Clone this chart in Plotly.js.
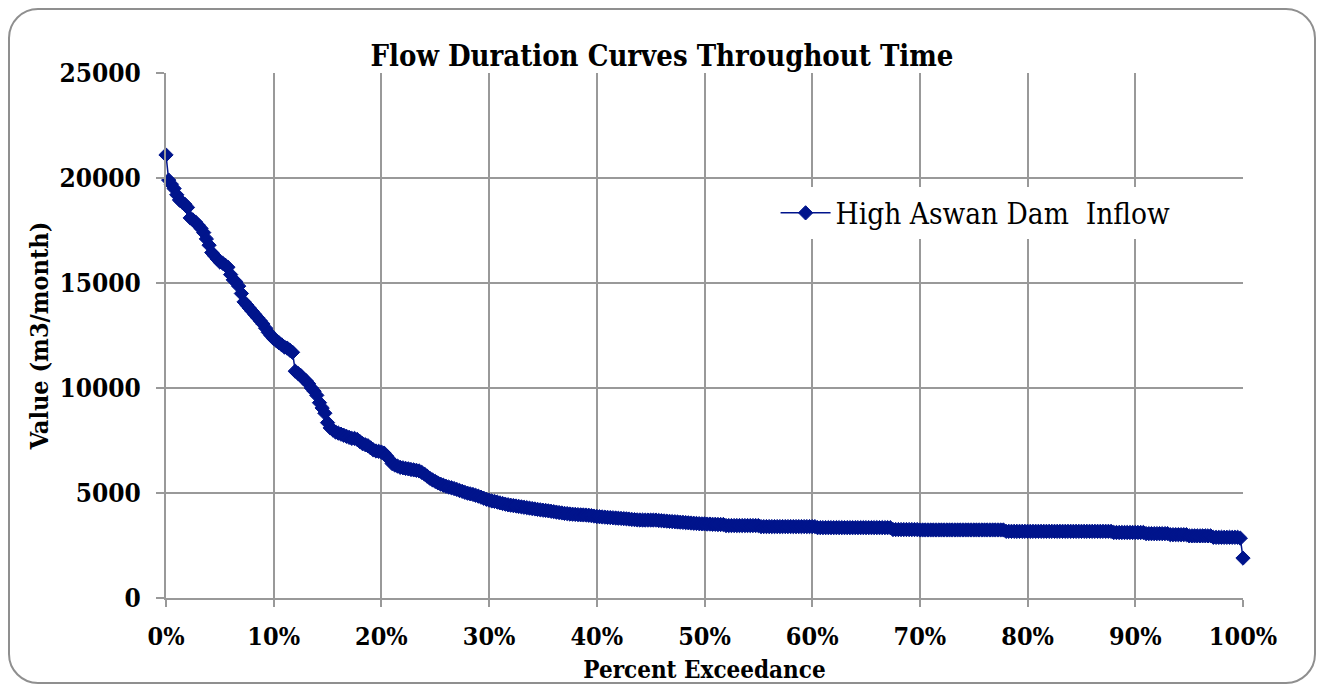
<!DOCTYPE html>
<html>
<head>
<meta charset="utf-8">
<script src="https://cdn.plot.ly/plotly-3.0.1.min.js"></script>
<style>
  html, body { margin: 0; padding: 0; background: #ffffff; }
  #frame {
    position: absolute; left: 8px; top: 8px; width: 1304px; height: 672px;
    border: 2px solid #8f8f8f; border-radius: 30px; box-sizing: content-box;
  }
  #chart { position: absolute; left: 0; top: 0; width: 1324px; height: 684px; }
</style>
</head>
<body>
<div id="frame"></div>
<div id="chart"></div>
<script>
// Flow values (m3/month), sorted descending, one every 0.25% exceedance
const STEP_PERCENT = 0.25;
const flow_00_05 = [21100,19900,19700,19500,19200,18950,18850,18750,18600,18100,18000,17900,17750,17600,17400,17100,16800,16450,16300,16150];
const flow_05_10 = [16000,15950,15850,15750,15400,15150,15050,14850,14500,14100,13950,13800,13650,13500,13350,13200,13050,12850,12650,12500];
const flow_10_15 = [12350,12250,12150,12050,11950,11900,11800,11700,10800,10700,10600,10450,10350,10200,10000,9850,9650,9300,9050,8800];
const flow_15_20 = [8350,8100,8000,7900,7850,7800,7750,7700,7650,7600,7600,7550,7450,7350,7300,7250,7150,7050,7000,6980];
const flow_20_25 = [6950,6900,6750,6600,6400,6330,6280,6220,6200,6170,6150,6120,6100,6080,6050,5980,5900,5800,5700,5620];
const flow_25_30 = [5550,5480,5420,5370,5320,5280,5250,5210,5170,5120,5080,5030,4990,4960,4930,4890,4850,4800,4750,4700];
const flow_30_35 = [4660,4620,4600,4570,4530,4500,4470,4440,4420,4400,4380,4360,4340,4320,4300,4280,4260,4240,4220,4200];
const flow_35_40 = [4180,4170,4150,4130,4110,4090,4070,4050,4030,4020,4000,3990,3980,3970,3960,3955,3950,3940,3920,3900];
const flow_40_45 = [3880,3870,3860,3850,3840,3830,3820,3810,3800,3790,3780,3770,3760,3740,3730,3720,3715,3710,3710,3710];
const flow_45_50 = [3710,3710,3710,3690,3680,3670,3660,3650,3640,3630,3620,3610,3600,3590,3580,3570,3560,3550,3540,3530];
const flow_50_55 = [3530,3520,3520,3510,3510,3500,3500,3500,3450,3450,3450,3450,3450,3450,3450,3450,3450,3450,3450,3450];
const flow_55_60 = [3450,3400,3400,3400,3400,3400,3400,3400,3400,3400,3400,3400,3400,3400,3400,3400,3400,3400,3400,3400];
const flow_60_65 = [3400,3400,3350,3350,3350,3350,3350,3350,3350,3350,3350,3350,3350,3350,3350,3350,3350,3350,3350,3350];
const flow_65_70 = [3350,3350,3350,3350,3350,3350,3350,3350,3350,3350,3260,3260,3260,3260,3260,3260,3260,3260,3260,3260];
const flow_70_75 = [3240,3240,3240,3240,3240,3240,3240,3240,3240,3240,3240,3240,3240,3240,3240,3240,3240,3240,3240,3240];
const flow_75_80 = [3240,3240,3240,3240,3240,3240,3240,3240,3240,3240,3240,3240,3175,3175,3175,3175,3175,3175,3175,3175];
const flow_80_85 = [3175,3175,3175,3175,3175,3175,3175,3175,3175,3175,3175,3175,3175,3175,3175,3175,3175,3175,3175,3175];
const flow_85_90 = [3175,3175,3175,3175,3175,3175,3175,3175,3175,3175,3175,3175,3120,3120,3120,3120,3120,3120,3120,3120];
const flow_90_95 = [3120,3120,3120,3120,3065,3065,3065,3065,3065,3065,3065,3065,3065,3015,3015,3015,3015,3015,3015,3015];
const flow_95_100 = [2960,2960,2960,2960,2960,2960,2960,2960,2960,2890,2890,2890,2890,2890,2890,2890,2890,2890,2890,2850];
const flow_last = [1900];

const seriesName = 'High Aswan Dam  Inflow';
const xTickValues = [0,10,20,30,40,50,60,70,80,90,100];
const yTickValues = [0,5000,10000,15000,20000,25000];

const flowValues = [].concat(flow_00_05, flow_05_10, flow_10_15, flow_15_20, flow_20_25,
  flow_25_30, flow_30_35, flow_35_40, flow_40_45, flow_45_50, flow_50_55, flow_55_60,
  flow_60_65, flow_65_70, flow_70_75, flow_75_80, flow_80_85, flow_85_90, flow_90_95,
  flow_95_100, flow_last);
const exceedance = flowValues.map((v, i) => i * STEP_PERCENT);

const blue = '#00148C';
const grid = '#999999';
const serifC = '"DejaVu Serif Condensed", "DejaVu Serif", "Liberation Serif", serif';

const trace = {
  x: exceedance, y: flowValues, type: 'scatter', mode: 'lines+markers', name: seriesName,
  line: {color: blue, width: 1.5},
  marker: {symbol: 'diamond', size: 11, color: blue, line: {color: blue, width: 1}},
  cliponaxis: false
};

const layout = {
  width: 1324, height: 684,
  margin: {l: 166, r: 81, t: 73, b: 86},
  paper_bgcolor: 'rgba(0,0,0,0)', plot_bgcolor: 'rgba(0,0,0,0)',
  showlegend: true,
  title: {
    text: 'Flow Duration Curves Throughout Time',
    font: {family: serifC, size: 29, weight: 'bold', color: '#000'},
    x: 0.5, xanchor: 'center', xref: 'container', y: 1 - 56/684, yanchor: 'middle', yref: 'container'
  },
  xaxis: {
    range: [0, 100], tickvals: xTickValues, ticktext: xTickValues.map(v => v + '%'),
    showgrid: true, gridcolor: grid, gridwidth: 2,
    showline: true, linecolor: grid, linewidth: 2,
    ticks: 'outside', ticklen: 7, tickwidth: 2, tickcolor: grid,
    ticklabelstandoff: 8,
    zeroline: false,
    tickfont: {family: serifC, size: 25, weight: 'bold', color: '#000'},
    title: {text: 'Percent Exceedance', font: {family: serifC, size: 24, weight: 'bold', color: '#000'}, standoff: 12}
  },
  yaxis: {
    range: [0, 25000], tickvals: yTickValues, ticktext: yTickValues.map(v => String(v)),
    showgrid: true, gridcolor: grid, gridwidth: 2,
    showline: true, linecolor: grid, linewidth: 2,
    ticks: 'outside', ticklen: 8, tickwidth: 2, tickcolor: grid,
    ticklabelstandoff: 10,
    zeroline: false,
    tickfont: {family: serifC, size: 26, weight: 'bold', color: '#000'},
    title: {text: 'Value (m3/month)', font: {family: serifC, size: 25, weight: 'bold', color: '#000'}, standoff: 4}
  },
  legend: {
    x: 0.566, xanchor: 'left', y: 0.733, yanchor: 'middle',
    itemwidth: 50,
    bgcolor: 'rgba(255,255,255,1)', borderwidth: 0,
    font: {family: serifC, size: 29.5, color: '#000'}
  }
};

Plotly.newPlot('chart', [trace], layout, {displayModeBar: false, staticPlot: true});
</script>
</body>
</html>
